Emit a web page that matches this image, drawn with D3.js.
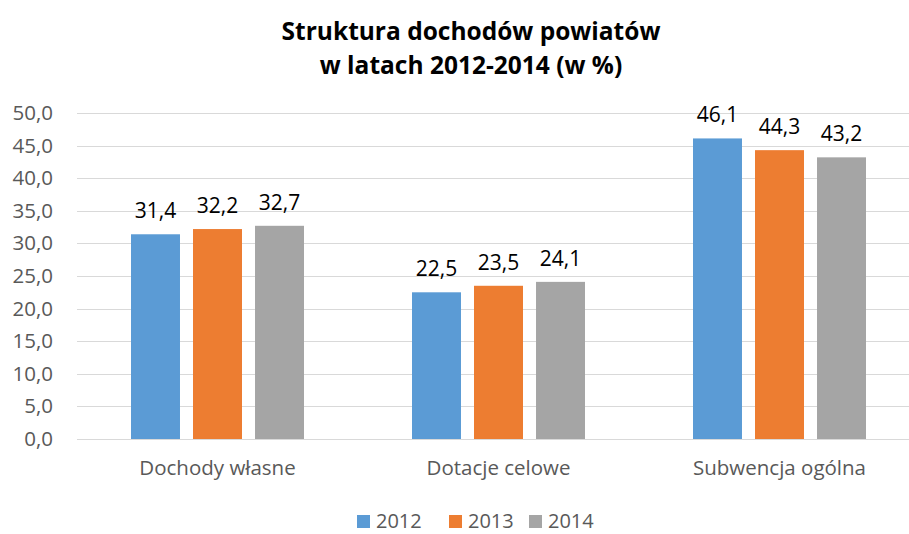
<!DOCTYPE html>
<html>
<head>
<meta charset="utf-8">
<script src="https://cdn.jsdelivr.net/npm/d3@7"></script>
<style>
  body { margin: 0; background: #fff; }
  svg { display: block; font-family: "Open Sans", "Liberation Sans", sans-serif; }
</style>
</head>
<body>
<div id="chart"></div>
<script>
const categories = ["Dochody własne", "Dotacje celowe", "Subwencja ogólna"];
const years = ["2012", "2013", "2014"];
const values2012 = [31.4, 22.5, 46.1];
const values2013 = [32.2, 23.5, 44.3];
const values2014 = [32.7, 24.1, 43.2];
const yTicks = [0, 5, 10, 15, 20, 25, 30, 35, 40, 45, 50];
const seriesValues = [values2012, values2013, values2014];
const colors = ["#5B9BD5", "#ED7D31", "#A5A5A5"];

const width = 909;
const height = 534;
const fmt = v => d3.format(".1f")(v).replace(".", ",");

const svg = d3.select("#chart")
	.append("svg")
	.attr("width", width)
	.attr("height", height);

// title
const title = svg.append("text")
	.attr("text-anchor", "middle")
	.attr("font-weight", "bold")
	.attr("font-size", 24.5)
	.attr("fill", "#000");
title.append("tspan").attr("x", 471).attr("y", 40).text("Struktura dochodów powiatów");
title.append("tspan").attr("x", 471).attr("y", 74).text("w latach 2012-2014 (w %)");

const y = d3.scaleLinear().domain([0, 50]).range([439, 113]);
const x0 = d3.scaleBand().domain(categories).range([77, 920]);
const x1 = d3.scaleBand().domain(years).range([54, 227]).paddingInner(0.21);

// gridlines
svg.append("g")
	.selectAll("line")
	.data(yTicks)
	.enter().append("line")
	.attr("x1", 77)
	.attr("x2", width)
	.attr("y1", d => Math.round(y(d)) + 0.5)
	.attr("y2", d => Math.round(y(d)) + 0.5)
	.attr("stroke", "#D9D9D9")
	.attr("stroke-width", 1);

// y axis labels
const yAxis = svg.append("g")
	.attr("transform", "translate(77,0)")
	.call(d3.axisLeft(y).tickValues(yTicks).tickFormat(fmt).tickSize(0).tickPadding(24));
yAxis.select(".domain").remove();
yAxis.selectAll("text")
	.attr("font-size", 20.5)
	.attr("fill", "#595959")
	.attr("font-family", "Open Sans, sans-serif");

// bars
const groups = svg.append("g")
	.selectAll("g")
	.data(categories)
	.enter().append("g")
	.attr("transform", c => `translate(${x0(c)},0)`);

groups.selectAll("rect")
	.data((c, i) => years.map((yr, s) => ({ yr, s, v: seriesValues[s][i] })))
	.enter().append("rect")
	.attr("x", d => x1(d.yr))
	.attr("width", x1.bandwidth())
	.attr("y", d => y(d.v))
	.attr("height", d => y(0) - y(d.v))
	.attr("fill", d => colors[d.s]);

groups.selectAll("text")
	.data((c, i) => years.map((yr, s) => ({ yr, s, v: seriesValues[s][i] })))
	.enter().append("text")
	.attr("x", d => x1(d.yr) + x1.bandwidth() / 2)
	.attr("y", d => y(d.v) - 16)
	.attr("text-anchor", "middle")
	.attr("font-size", 21)
	.attr("fill", "#000")
	.text(d => fmt(d.v));

// category axis
svg.append("line")
	.attr("x1", 77).attr("x2", width)
	.attr("y1", 439.5).attr("y2", 439.5)
	.attr("stroke", "#D9D9D9");
const xAxis = svg.append("g")
	.attr("transform", "translate(0,439)")
	.call(d3.axisBottom(x0).tickSize(0).tickPadding(21));
xAxis.select(".domain").remove();
xAxis.selectAll("text")
	.attr("font-size", 20.5)
	.attr("fill", "#595959")
	.attr("font-family", "Open Sans, sans-serif");

// legend
const legendX = [357, 449, 529];
const legend = svg.append("g")
	.selectAll("g")
	.data(years)
	.enter().append("g")
	.attr("transform", (d, i) => `translate(${legendX[i]},515)`);
legend.append("rect")
	.attr("width", 13)
	.attr("height", 13)
	.attr("fill", (d, i) => colors[i]);
legend.append("text")
	.attr("x", 19)
	.attr("y", 13)
	.attr("font-size", 20)
	.attr("fill", "#595959")
	.text(d => d);
</script>
</body>
</html>
